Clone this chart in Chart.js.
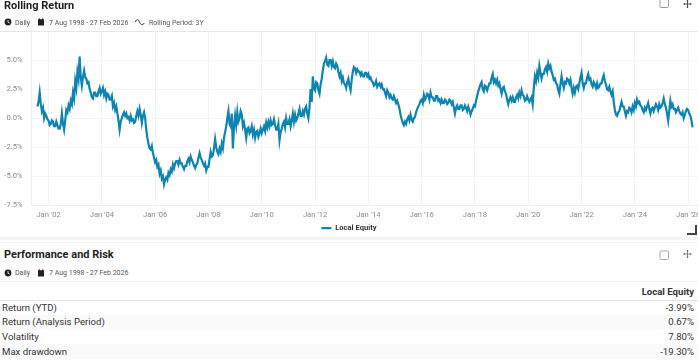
<!DOCTYPE html>
<html>
<head>
<meta charset="utf-8">
<title>Rolling Return</title>
<script src="https://cdn.jsdelivr.net/npm/chart.js@4/dist/chart.umd.min.js"></script>
<style>
html, body { margin: 0; padding: 0; background: #fff; }
body { width: 698px; height: 363px; overflow: hidden; position: relative; font-family: Roboto, sans-serif; color: #222; }
.abs { position: absolute; white-space: nowrap; }
.title { font-size: 11px; font-weight: 700; color: #1f1f1f; left: 4px; line-height: 14px; }
.sub { font-size: 7px; color: #555; line-height: 10px; }
.rule { position: absolute; left: 0; width: 698px; }
svg { position: absolute; }
#chartBox { position: absolute; left: 0; top: 0; }
table { position: absolute; left: 0; top: 282.5px; width: 698px; border-collapse: collapse; font-size: 9.6px; color: #333; }
th { font-weight: 700; text-align: right; height: 17px; padding: 0 4px 0 2px; border-bottom: 1.5px solid #e2e2e2; }
td { height: 14.6px; padding: 0 4px 0 2px; line-height: 12px; }
td.num { text-align: right; }
tr.alt td { background: #fafafa; }
</style>
</head>
<body>
<div id="chartBox"><canvas id="rollingChart" width="698" height="246"></canvas></div>

<div class="abs title" style="top:-1px">Rolling Return</div>
<svg style="left:4px;top:18px" width="8" height="8" viewBox="0 0 8 8"><circle cx="4" cy="4" r="3.4" fill="#222"/><path d="M4 2v2.2l1.6.9" stroke="#fff" stroke-width=".8" fill="none"/></svg>
<div class="abs sub" style="left:15px;top:18px">Daily</div>
<svg style="left:37px;top:18px" width="8" height="8" viewBox="0 0 8 8"><path d="M1 1.2h6v6.3H1z" fill="#222"/><path d="M2.3.3v1.5M5.7.3v1.5" stroke="#222"/></svg>
<div class="abs sub" style="left:49px;top:18px">7 Aug 1998 - 27 Feb 2026</div>
<svg style="left:135px;top:18px" width="10" height="8" viewBox="0 0 10 8"><path d="M.5 4C1.5 1 3 .8 4.2 3.4 5.3 6.8 7.5 7.5 9.5 5" stroke="#222" stroke-width="1" fill="none"/></svg>
<div class="abs sub" style="left:149px;top:18px">Rolling Period: 3Y</div>
<svg style="left:659px;top:0" width="11" height="9" viewBox="0 0 11 9"><rect x="1" y="-1" width="8.5" height="8.5" rx="1" fill="none" stroke="#999"/></svg>
<svg style="left:683px;top:0" width="9" height="9" viewBox="0 0 9 9"><path d="M4.5 0v8M.5 4h8" stroke="#444" stroke-width=".9"/><path d="M3.2 1.3h2.6L4.5 0zM3.2 6.7h2.6L4.5 8zM1.8 2.7v2.6L.5 4zM7.2 2.7v2.6L8.5 4z" fill="#444"/></svg>
<div class="rule" style="top:31px;height:1px;background:#e6e6e6"></div>

<svg style="left:687px;top:225px" width="10" height="10" viewBox="0 0 10 10"><path d="M9 0v9H0" stroke="#444" stroke-width="2" fill="none"/></svg>
<div class="rule" style="top:237px;height:3px;background:#f3f3f3"></div>
<div class="rule" style="top:240px;height:2px;background:#fff"></div>
<div class="rule" style="top:242px;height:1px;background:#f3f3f3"></div>

<div class="abs title" style="top:248px">Performance and Risk</div>
<svg style="left:4px;top:269px" width="8" height="8" viewBox="0 0 8 8"><circle cx="4" cy="4" r="3.4" fill="#222"/><path d="M4 2v2.2l1.6.9" stroke="#fff" stroke-width=".8" fill="none"/></svg>
<div class="abs sub" style="left:15px;top:268px">Daily</div>
<svg style="left:37px;top:269px" width="8" height="8" viewBox="0 0 8 8"><path d="M1 1.2h6v6.3H1z" fill="#222"/><path d="M2.3.3v1.5M5.7.3v1.5" stroke="#222"/></svg>
<div class="abs sub" style="left:49px;top:268px">7 Aug 1998 - 27 Feb 2026</div>
<svg style="left:659px;top:250px" width="11" height="11" viewBox="0 0 11 11"><rect x="1" y="1" width="8.5" height="8.5" rx="1" fill="none" stroke="#aaa"/></svg>
<svg style="left:683px;top:250px" width="9" height="9" viewBox="0 0 9 9"><path d="M4.5 0v8M.5 4h8" stroke="#666" stroke-width=".8"/><path d="M3.2 1.3h2.6L4.5 0zM3.2 6.7h2.6L4.5 8zM1.8 2.7v2.6L.5 4zM7.2 2.7v2.6L8.5 4z" fill="#666"/></svg>
<div class="rule" style="top:281px;height:1px;background:#f0f0f0"></div>

<table id="stats"></table>

<script>
// twice-a-month readings of the 3Y rolling return, one list per year
const r2001 = [1.0, 1.4, 2.2, 1.2, 0.6, 0.9, 0.0, 0.4, 0.2, -0.1]; // starts Aug
const r2002 = [-0.2, -0.6, -0.5, -0.2, -0.3, -0.7, -0.7, -0.3, -0.6, -0.9, -0.9, -0.5, 0.4, -0.5, -1.0, -0.2, 0.7, 0.5, 1.1, 0.8, 1.5, 1.2, 2.2, 1.7];
const r2003 = [3.2, 2.6, 4.0, 3.4, 5.3, 3.5, 2.8, 3.6, 4.1, 3.5, 3.4, 3.0, 3.1, 2.5, 2.2, 1.8, 1.7, 2.2, 2.2, 1.9, 1.9, 2.3, 2.6, 2.1];
const r2004 = [2.3, 2.6, 2.0, 2.3, 1.7, 2.1, 2.0, 1.6, 1.6, 1.9, 1.0, 1.3, 0.7, 1.0, 0.4, -0.2, -1.0, -0.3, 0.0, 0.3, 0.5, 0.2, 0.4, 0.0];
const r2005 = [0.1, -0.2, 0.2, -0.2, -0.1, -0.4, -0.3, 0.2, 0.6, 0.2, 0.8, 0.3, -0.4, 0.2, 0.5, 0.0, -1.0, -1.7, -2.2, -2.6, -2.7, -2.4, -3.0, -3.4];
const r2006 = [-3.8, -3.6, -4.2, -4.0, -4.8, -4.5, -5.2, -5.0, -5.7, -5.3, -5.1, -5.3, -4.7, -4.9, -4.4, -4.6, -4.0, -4.3, -3.9, -3.7, -3.7, -4.0, -3.6, -3.9];
const r2007 = [-3.9, -4.2, -4.4, -4.1, -4.1, -3.7, -3.5, -3.8, -3.3, -3.6, -3.8, -4.1, -4.3, -4.0, -3.9, -3.4, -3.0, -3.4, -3.6, -3.9, -4.1, -3.9, -4.5, -4.2];
const r2008 = [-4.2, -3.5, -2.9, -3.3, -3.2, -2.6, -1.8, -2.5, -2.9, -3.1, -2.6, -2.9, -2.2, -2.6, -1.7, -1.2, -0.7, 0.0, 0.6, -0.5, -0.7, 0.4, -2.6, -0.8];
const r2009 = [0.2, -0.6, 0.5, -0.3, 0.0, 0.6, 0.3, -0.7, -0.4, -1.0, -1.7, -0.9, -0.8, -1.3, -1.1, -0.7, -1.4, -1.0, -1.7, -1.2, -1.1, -1.6, -1.3, -0.9];
const r2010 = [-1.3, -1.0, -0.7, -1.1, -0.4, -0.8, -0.3, -0.7, -0.2, -0.6, -0.5, -0.1, -0.6, -1.0, -1.0, -0.5, -1.9, -1.2, -0.9, -0.5, -0.3, -0.8, 0.0, -0.5];
const r2011 = [-0.5, -0.1, -0.7, -0.2, 0.4, -0.3, 0.3, -0.2, 0.0, 0.4, 0.8, 0.2, 0.2, 0.6, 0.3, 0.8, 1.0, 0.4, 0.0, 0.9, 2.5, 1.4, 3.6, 2.6];
const r2012 = [2.4, 3.1, 3.0, 2.4, 2.1, 2.9, 3.4, 4.1, 4.7, 4.9, 5.2, 4.6, 4.5, 5.0, 5.0, 4.5, 4.9, 4.4, 4.3, 4.7, 4.5, 4.0, 3.6, 3.9];
const r2013 = [3.2, 3.5, 3.0, 2.9, 2.6, 3.1, 3.4, 2.8, 2.4, 3.3, 4.0, 4.4, 4.3, 3.9, 4.2, 4.0, 4.0, 3.7, 3.9, 3.6, 3.6, 3.9, 3.9, 3.6];
const r2014 = [3.8, 3.4, 3.5, 3.2, 3.1, 2.8, 2.9, 3.2, 2.7, 2.9, 3.0, 2.7, 2.9, 2.5, 2.5, 2.2, 1.9, 2.4, 2.2, 1.8, 2.0, 1.7, 1.6, 1.9];
const r2015 = [1.6, 1.3, 1.5, 1.2, 0.8, 0.3, -0.1, -0.4, -0.6, -0.3, -0.5, -0.1, 0.1, -0.2, 0.3, -0.1, -0.3, 0.0, 0.1, 0.5, 0.8, 1.0, 1.2, 1.5];
const r2016 = [1.6, 1.3, 2.0, 1.6, 1.8, 2.1, 2.0, 1.6, 2.2, 1.8, 1.8, 1.5, 1.5, 1.9, 1.9, 1.5, 1.6, 1.3, 1.6, 1.3, 1.3, 1.6, 1.5, 1.2];
const r2017 = [1.3, 1.6, 1.5, 1.2, 1.4, 0.9, 0.4, 0.9, 1.1, 0.8, 0.8, 1.1, 1.1, 0.7, 0.8, 1.1, 0.9, 0.6, 1.0, 0.7, 0.3, 0.6, 0.8, 1.1];
const r2018 = [1.0, 1.5, 1.9, 2.3, 2.6, 2.9, 3.1, 2.5, 2.3, 2.8, 2.7, 2.4, 2.7, 3.0, 3.0, 3.5, 3.8, 3.1, 3.3, 3.0, 3.3, 2.8, 3.0, 2.5];
const r2019 = [2.1, 2.6, 2.7, 2.3, 2.1, 1.6, 1.2, 1.6, 1.8, 1.5, 1.8, 1.4, 1.4, 1.8, 2.0, 1.7, 2.2, 1.9, 2.4, 2.0, 1.9, 1.5, 1.6, 1.9];
const r2020 = [1.6, 1.4, 1.6, 1.8, 1.2, 2.6, 3.6, 3.2, 3.9, 3.5, 4.5, 3.9, 3.4, 3.8, 3.8, 4.2, 4.4, 4.0, 4.7, 4.3, 4.5, 4.0, 3.7, 3.3];
const r2021 = [3.4, 3.0, 2.9, 2.4, 2.1, 2.9, 3.6, 3.0, 2.6, 3.1, 3.0, 3.4, 3.3, 3.0, 3.3, 2.6, 2.1, 2.6, 2.2, 2.7, 2.8, 2.5, 3.0, 3.5];
const r2022 = [3.9, 3.0, 2.6, 3.0, 3.0, 3.5, 3.8, 3.3, 3.4, 2.9, 2.7, 3.1, 2.9, 2.6, 3.0, 2.6, 2.7, 3.0, 3.0, 3.4, 3.7, 3.2, 2.9, 2.5];
const r2023 = [2.4, 2.7, 2.3, 2.0, 2.3, 1.4, 0.7, 0.3, 0.2, 0.5, 0.6, 1.0, 1.4, 1.0, 1.0, 0.6, 0.2, 0.6, 0.5, 0.9, 0.8, 0.5, 1.0, 0.7];
const r2024 = [1.3, 1.0, 1.6, 1.3, 1.4, 1.1, 1.0, 0.7, 0.5, 0.9, 0.7, 1.0, 1.3, 0.8, 0.4, 0.8, 0.9, 0.6, 0.9, 1.2, 1.0, 0.7, 1.2, 0.9];
const r2025 = [1.0, 1.3, 1.7, 1.2, 0.9, 0.4, -0.2, 0.6, 1.5, 1.0, 1.2, 0.8, 0.8, 0.5, 0.7, 0.9, 0.6, 0.4, 0.3, 0.5, 0.0, 0.3, 0.6, 0.8];
const r2026 = [0.7, 0.4, 0.2, -0.2, -0.8];

const xTickYears = [2002, 2004, 2006, 2008, 2010, 2012, 2014, 2016, 2018, 2020, 2022, 2024, 2026];
const xTickLabels = ["Jan '02", "Jan '04", "Jan '06", "Jan '08", "Jan '10", "Jan '12", "Jan '14", "Jan '16", "Jan '18", "Jan '20", "Jan '22", "Jan '24", "Jan '26"];
const yTicks = [7.5, 5, 2.5, 0, -2.5, -5, -7.5];
const yTickLabels = ['', '5.0%', '2.5%', '0.0%', '-2.5%', '-5.0%', '-7.5%'];

const statNames = ['Return (YTD)', 'Return (Analysis Period)', 'Volatility', 'Max drawdown'];
const statValues = ['-3.99%', '0.67%', '7.80%', '-19.30%'];

// build {x: decimal year, y: value}
const rows = [r2002, r2003, r2004, r2005, r2006, r2007, r2008, r2009, r2010, r2011, r2012, r2013,
    r2014, r2015, r2016, r2017, r2018, r2019, r2020, r2021, r2022, r2023, r2024, r2025, r2026];
const points = r2001.map((v, i) => ({ x: 2001 + (14 + i) / 24, y: v }));
rows.forEach((row, n) => {
    row.forEach((v, i) => points.push({ x: 2002 + n + i / 24, y: v }));
});

const ctx = document.getElementById('rollingChart').getContext('2d');
new Chart(ctx, {
    type: 'line',
    data: {
        datasets: [{
            label: 'Local Equity',
            data: points,
            borderColor: '#0e84b2',
            backgroundColor: '#0e84b2',
            borderWidth: 2.2,
            pointRadius: 0,
            tension: 0
        }]
    },
    options: {
        responsive: false,
        animation: false,
        layout: { padding: { top: 31, bottom: 4 } },
        plugins: {
            tooltip: { enabled: false },
            legend: {
                position: 'bottom',
                labels: {
                    usePointStyle: true,
                    pointStyle: 'line',
                    pointStyleWidth: 10,
                    boxHeight: 6,
                    padding: 0,
                    color: '#333',
                    font: { family: 'Roboto', size: 7.6, weight: '700' }
                }
            }
        },
        scales: {
            x: {
                type: 'linear',
                min: 2001.36,
                max: 2026.37,
                afterBuildTicks: s => { s.ticks = xTickYears.map(v => ({ value: v })); },
                afterFit: s => { s.paddingLeft = 0; s.paddingRight = 0; },
                grid: { color: '#f3f3f3', drawTicks: false },
                border: { color: '#f0f0f0' },
                ticks: {
                    autoSkip: false,
                    maxRotation: 0,
                    padding: 5,
                    color: '#8a8a8a',
                    font: { family: 'Roboto', size: 7.6 },
                    callback: v => xTickLabels[xTickYears.indexOf(v)]
                }
            },
            y: {
                min: -7.5,
                max: 7.5,
                afterBuildTicks: s => { s.ticks = yTicks.map(v => ({ value: v })); },
                afterFit: s => { s.width = 31.5; s.paddingTop = 0; s.paddingBottom = 0; },
                grid: { color: '#f5f5f5', drawTicks: false },
                border: { color: '#f0f0f0' },
                ticks: {
                    autoSkip: false,
                    padding: 9,
                    color: '#8a8a8a',
                    font: { family: 'Roboto', size: 7.6 },
                    callback: v => yTickLabels[yTicks.indexOf(v)]
                }
            }
        }
    }
});

// table under the chart
let html = '<tr><th></th><th>Local Equity</th></tr>';
statNames.forEach((name, i) => {
    html += '<tr' + (i % 2 ? ' class="alt"' : '') + '><td>' + name + '</td><td class="num">' + statValues[i] + '</td></tr>';
});
document.getElementById('stats').innerHTML = html;
</script>
</body>
</html>
